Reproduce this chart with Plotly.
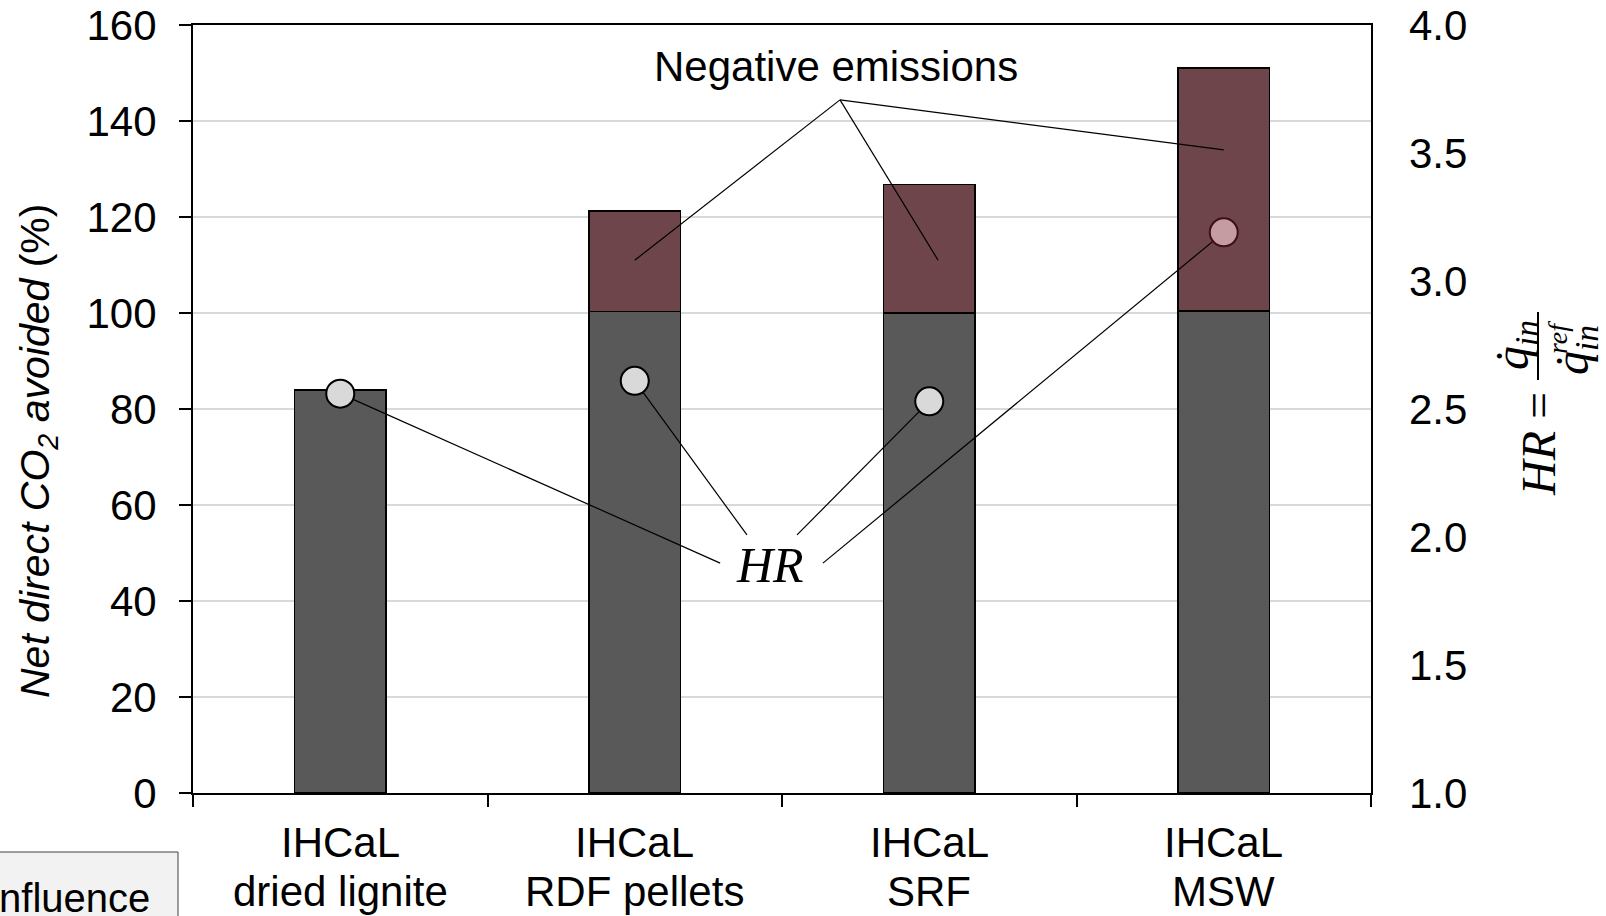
import plotly.graph_objects as go

# ---------------- data ----------------
process = "IHCaL"
fuels = ["dried lignite", "RDF pellets", "SRF", "MSW"]
categories = [f"{process}<br>{f}" for f in fuels]
direct_avoided = [84.0, 100.3, 100.0, 100.4]          # % (left axis, grey part)
negative_emissions = [None, 21.0, 26.8, 50.6]         # % (left axis, stacked red part)
hr_values = [2.56, 2.61, 2.53, 3.19]                  # HR (right axis)
hr_fill = ["#d9d9d9", "#d9d9d9", "#d9d9d9", "#c49ca1"]
hr_edge = ["#000000", "#000000", "#000000", "#3f0f15"]
left_ticks = [0, 20, 40, 60, 80, 100, 120, 140, 160]
right_ticks = [1.0, 1.5, 2.0, 2.5, 3.0, 3.5, 4.0]

# label anchor positions (x in category units, y in axis units)
neg_label = (1.685, 151.3)
neg_origin = (1.697, 144.4)
neg_ends = [(1.0, 111.0), (2.03, 111.0), (3.0, 134.0)]
hr_label = (1.459, 1.889)
hr_starts = [(1.29, 1.898), (1.381, 2.008), (1.551, 2.008), (1.639, 1.898)]

# ---------------- layout geometry (page pixels) ----------------
W, H = 1606, 916
L, R, T, B = 193, 1371, 25, 793   # plot area in page pixels
def xp(px):
    return (px - L) / (R - L)
def yp(py):
    return (B - py) / (B - T)

SANS = "Liberation Sans, Arial, sans-serif"
SERIF = "Liberation Serif, Times New Roman, serif"
GREY = "#595959"
RED = "#6e454a"
FS = 42

fig = go.Figure()

fig.add_trace(go.Bar(
    x=categories, y=direct_avoided, width=0.31,
    marker=dict(color=GREY, line=dict(color="black", width=1.5)),
    showlegend=False, hoverinfo="skip"))
fig.add_trace(go.Bar(
    x=categories, y=negative_emissions, width=0.31,
    marker=dict(color=RED, line=dict(color="black", width=1.5)),
    showlegend=False, hoverinfo="skip"))

# HR leader lines (drawn before markers so the markers sit on top)
for i, (sx, sy) in enumerate(hr_starts):
    fig.add_trace(go.Scatter(
        x=[sx, i], y=[sy, hr_values[i]], xaxis="x2", yaxis="y2",
        mode="lines", line=dict(color="black", width=1.2),
        showlegend=False, hoverinfo="skip"))

fig.add_trace(go.Scatter(
    x=list(range(len(hr_values))), y=hr_values, xaxis="x2", yaxis="y2",
    mode="markers",
    marker=dict(size=28, color=hr_fill, line=dict(color=hr_edge, width=2)),
    showlegend=False, hoverinfo="skip"))

shapes = []
for ex, ey in neg_ends:
    shapes.append(dict(type="line", xref="x2", yref="y",
                       x0=neg_origin[0], y0=neg_origin[1], x1=ex, y1=ey,
                       line=dict(color="black", width=1.2), layer="above"))
# fraction bar of right title
shapes.append(dict(type="line", xref="paper", yref="paper",
                   x0=xp(1538), x1=xp(1538), y0=yp(312), y1=yp(380),
                   line=dict(color="black", width=2)))
# bottom-left boxed label
shapes.append(dict(type="rect", xref="paper", yref="paper",
                   x0=xp(-6), x1=xp(178), y0=yp(852), y1=yp(935),
                   fillcolor="#f2f2f2", line=dict(color="#404040", width=1)))

def ann(text, x, y, size, family=SANS, angle=0, xref="paper", yref="paper", **kw):
    d = dict(text=text, xref=xref, yref=yref, x=x, y=y, textangle=angle,
             showarrow=False, xanchor="center", yanchor="middle",
             font=dict(family=family, size=size, color="black"))
    d.update(kw)
    return d

annotations = [
    ann("Negative emissions", neg_label[0], neg_label[1], FS, xref="x2", yref="y"),
    ann("<i>HR</i>", hr_label[0], hr_label[1], 50, family=SERIF, xref="x2", yref="y2"),
    ann("<i>Net direct CO<sub>2</sub> avoided</i> (%)", xp(38), yp(451), 41, angle=-90),
    ann("<i>HR</i> =", xp(1538), yp(444), 48, family=SERIF, angle=-90),
    ann("<i>q̇<sub>in</sub></i>", xp(1515), yp(345), 48, family=SERIF, angle=-90),
    ann("<i>q̇<sub>in</sub></i>", xp(1575), yp(350), 48, family=SERIF, angle=-90),
    ann("<i>ref</i>", xp(1557), yp(338), 28, family=SERIF, angle=-90),
    ann("Influence", xp(-14), yp(898), 40, xanchor="left"),
]
# category labels (two lines, tight line pitch as in the original)
for cat in categories:
    top, bottom = cat.split("<br>")
    annotations.append(ann(top, cat, yp(842.5), FS, xref="x"))
    annotations.append(ann(bottom, cat, yp(891.5), FS, xref="x"))

fig.update_layout(
    width=W, height=H,
    margin=dict(l=L, r=W - R, t=T, b=H - B, pad=0, autoexpand=False),
    paper_bgcolor="white", plot_bgcolor="white",
    barmode="stack",
    font=dict(family=SANS, size=FS, color="black"),
    shapes=shapes, annotations=annotations,
    xaxis=dict(type="category", range=[-0.5, 3.5], showgrid=False, automargin=False,
               showline=True, linecolor="black", linewidth=2, mirror=True,
               ticks="outside", tickson="boundaries", ticklen=12,
               tickcolor="black", tickwidth=1.5, showticklabels=False),
    xaxis2=dict(overlaying="x", range=[-0.5, 3.5], visible=False, anchor="y2",
                automargin=False),
    yaxis=dict(range=[0, 160], tickvals=left_ticks, showgrid=True, automargin=False,
               gridcolor="#d9d9d9", gridwidth=2, zeroline=False,
               showline=True, linecolor="black", linewidth=2, mirror=True,
               ticks="outside", ticklen=12, tickcolor="black", tickwidth=1.5,
               tickfont=dict(family=SANS, size=FS, color="black"),
               ticklabelstandoff=14, ticklabeloverflow="allow"),
    yaxis2=dict(overlaying="y", side="right", anchor="x2", range=[1, 4], automargin=False,
                tickvals=right_ticks, tickformat=".1f", showgrid=False,
                zeroline=False, showline=False, ticks="",
                tickfont=dict(family=SANS, size=FS, color="black"),
                ticklabelstandoff=37, ticklabeloverflow="allow"),
)

# remove the default page margin so the figure fills the window exactly
fig.write_html("out.html",
               config={"displayModeBar": False},
               post_script="document.body.style.margin='0px';document.body.style.overflow='hidden';")
